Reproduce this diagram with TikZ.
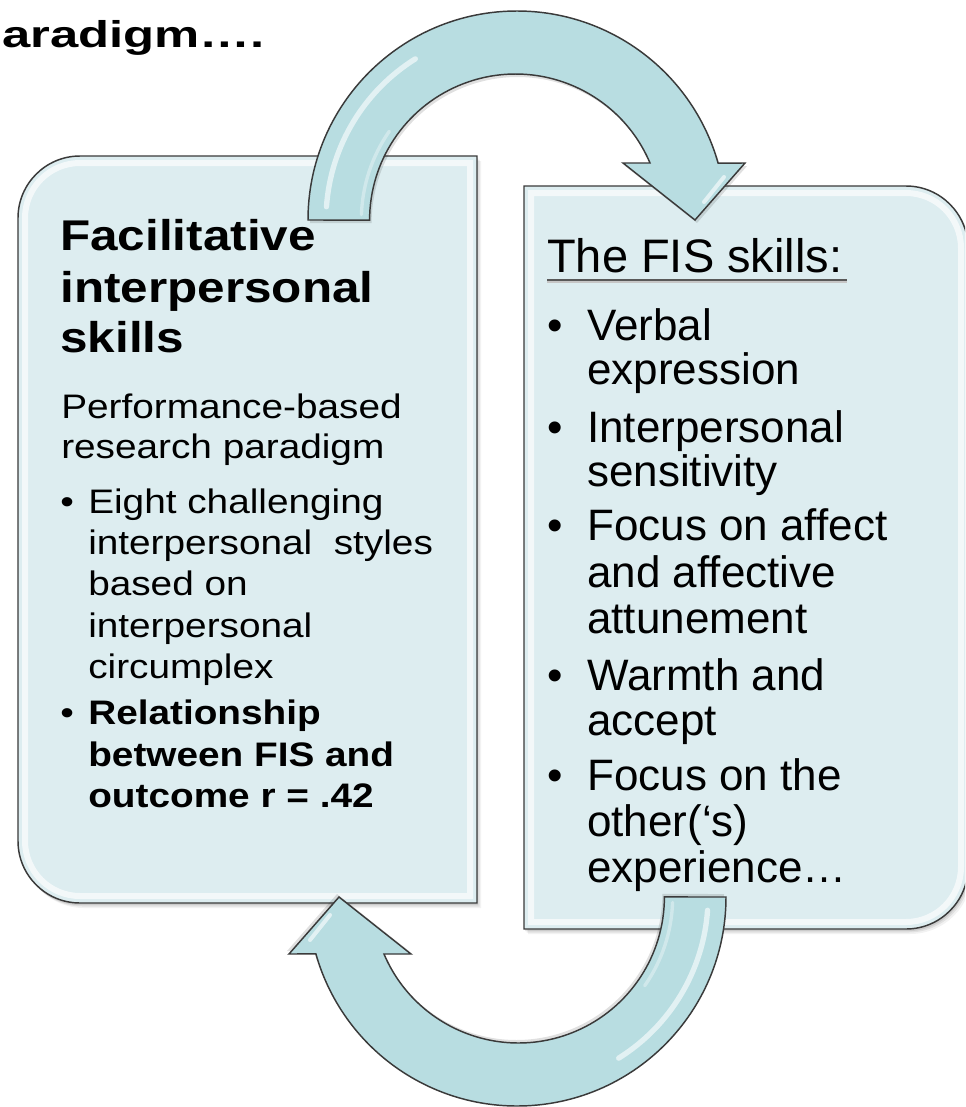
\documentclass[tikz,border=0pt]{standalone}
\usepackage{fontspec}
\setmainfont{Liberation Sans}
\newfontfamily\leftfont[FakeStretch=1.14]{Liberation Sans}
\newfontfamily\titlefont[FakeStretch=1.15]{Liberation Sans}
\newfontfamily\headfont[FakeStretch=1.36]{Liberation Sans}
\definecolor{boxfill}{HTML}{DDEDF0}
\definecolor{arrowfill}{HTML}{B8DDE1}
\definecolor{edgecol}{HTML}{3A3A3A}
\begin{document}
\begin{tikzpicture}[x=0.75pt,y=-0.75pt,
  boxshape/.style={fill=boxfill, draw=edgecol, line width=1.1pt},
  arrowshape/.style={fill=arrowfill, draw=edgecol, line width=1.1pt, line join=miter},
  bevel/.style={draw=white, line width=4.5pt, opacity=0.65},
  gloss/.style={draw=white, line width=4pt, opacity=0.6, line cap=round},
  txt/.style={anchor=base west, inner sep=0pt, text=black},
  hd/.style={txt, font=\headfont\bfseries\fontsize{28pt}{33pt}\selectfont},
  ttl/.style={txt, font=\titlefont\bfseries\fontsize{32.25pt}{38pt}\selectfont},
  lt/.style={txt, font=\leftfont\fontsize{25.5pt}{30pt}\selectfont},
  ltb/.style={txt, font=\leftfont\bfseries\fontsize{25.5pt}{30pt}\selectfont},
  ft/.style={txt, font=\fontsize{35.25pt}{42pt}\selectfont},
  rt/.style={txt, font=\fontsize{33pt}{40pt}\selectfont}
]
\clip (0,0) rectangle (965,1107);
\fill[white] (0,0) rectangle (965,1107);

% ---------- box shadows ----------
\foreach \d/\o in {4/0.05,2.5/0.07,1.2/0.09}{
  \fill[black, opacity=\o, shift={(\d,\d+1)}]
    (477,156) -- (477,903) -- (80,903) arc[start angle=270, end angle=180, radius=46.5pt]
    -- (18,218) arc[start angle=180, end angle=90, radius=46.5pt] -- cycle;
  \fill[black, opacity=\o, shift={(\d,\d+1)}]
    (524,186) -- (906,186) arc[start angle=90, end angle=0, radius=46.5pt]
    -- (968,867) arc[start angle=0, end angle=-90, radius=46.5pt] -- (524,929) -- cycle;
}

% ---------- left box ----------
\path[boxshape] (477,156) -- (477,903) -- (80,903) arc[start angle=270, end angle=180, radius=46.5pt]
  -- (18,218) arc[start angle=180, end angle=90, radius=46.5pt] -- cycle;
\path[bevel] (470,163) -- (470,896) -- (80,896) arc[start angle=270, end angle=180, radius=41.25pt]
  -- (25,218) arc[start angle=180, end angle=90, radius=41.25pt] -- cycle;

% ---------- right box ----------
\path[boxshape] (524,186) -- (906,186) arc[start angle=90, end angle=0, radius=46.5pt]
  -- (968,867) arc[start angle=0, end angle=-90, radius=46.5pt] -- (524,929) -- cycle;
\path[bevel] (531,193) -- (906,193) arc[start angle=90, end angle=0, radius=41.25pt]
  -- (961,867) arc[start angle=0, end angle=-90, radius=41.25pt] -- (531,922) -- cycle;

% ---------- curved arrows ----------
\foreach \r in {0,180}{
\begin{scope}[rotate around={\r:(517,558.5)}]
  \fill[black, opacity=0.12, shift={(2,3)}]
    (308,220) arc[start angle=180, end angle=15.8, radius=156.75pt]
    -- (745,163) -- (695,220) -- (623,163) -- (650,163)
    arc[start angle=23, end angle=180, radius=109.5pt] -- cycle;
  \path[arrowshape] (308,220) arc[start angle=180, end angle=15.8, radius=156.75pt]
    -- (745,163) -- (695,220) -- (623,163) -- (650,163)
    arc[start angle=23, end angle=180, radius=109.5pt] -- cycle;
  \draw[gloss] (516,220) ++(176:142.5pt) arc[start angle=176, end angle=122, radius=142.5pt];
  \draw[gloss, opacity=0.35, line width=2.5pt] (516,220) ++(178:116pt) arc[start angle=178, end angle=145, radius=116pt];
  \draw[gloss, line width=3pt] (724,177) -- (704,202);
\end{scope}
}

% ---------- heading fragment ----------
\node[hd] (head) at (2,47) {aradigm….};

% ---------- left box text ----------
\node[ttl] (t1) at (60,250) {Facilitative};
\node[ttl] (t2) at (60,302) {interpersonal};
\node[ttl] (t3) at (60,352) {skills};
\node[lt] (p1) at (61,418) {Performance-based};
\node[lt] (p2) at (61,458) {research paradigm};
\node[lt] (lb1) at (60,513) {•};
\node[lt] (e1) at (88,513) {Eight challenging};
\node[lt] (e2) at (88,554) {interpersonal\ \ styles};
\node[lt] (e3) at (88,595) {based on};
\node[lt] (e4) at (88,637) {interpersonal};
\node[lt] (e5) at (88,678) {circumplex};
\node[lt] (lb2) at (60,724) {•};
\node[ltb] (r1) at (88,724) {Relationship};
\node[ltb] (r2) at (88,766) {between FIS and};
\node[ltb] (r3) at (88,807) {outcome r = .42};

% ---------- right box text ----------
\node[ft] (fis) at (547,272) {The FIS skills:};
\draw[gray!45, line width=1.6pt] ([shift={(0,-7.5pt)}]fis.base west) -- ([shift={(3pt,-7.5pt)}]fis.base east);
\draw[black!65, line width=1.8pt] ([shift={(0,-6pt)}]fis.base west) -- ([shift={(3pt,-6pt)}]fis.base east);
\node[rt] (rb1) at (547,340) {•};
\node[rt] (s1) at (587,340) {Verbal};
\node[rt] (s2) at (587,384) {expression};
\node[rt] (rb2) at (547,442) {•};
\node[rt] (s3) at (587,442) {Interpersonal};
\node[rt] (s4) at (587,486) {sensitivity};
\node[rt] (rb3) at (547,540) {•};
\node[rt] (s5) at (587,540) {Focus on affect};
\node[rt] (s6) at (587,587) {and affective};
\node[rt] (s7) at (587,633) {attunement};
\node[rt] (rb4) at (547,690) {•};
\node[rt] (s8) at (587,690) {Warmth and};
\node[rt] (s9) at (587,735) {accept};
\node[rt] (rb5) at (547,790) {•};
\node[rt] (s10) at (587,790) {Focus on the};
\node[rt] (s11) at (587,836) {other(‘s)};
\node[rt] (s12) at (587,882) {experience…};
\end{tikzpicture}
\end{document}
